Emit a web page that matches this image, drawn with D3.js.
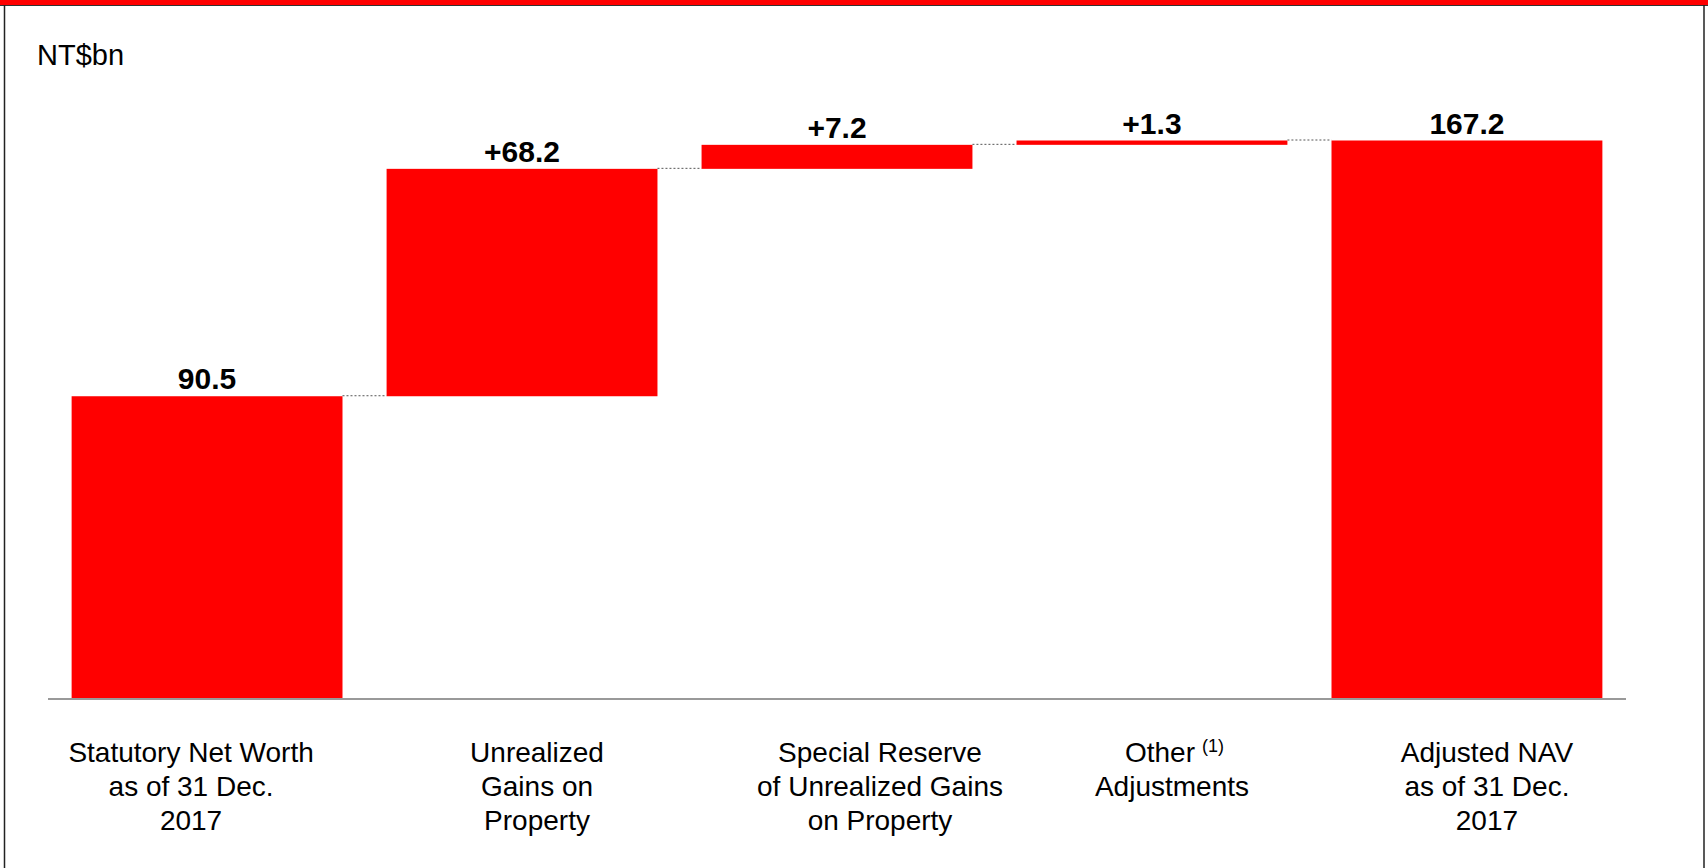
<!DOCTYPE html>
<html>
<head>
<meta charset="utf-8">
<script src="https://cdn.jsdelivr.net/npm/d3@7"></script>
<style>
  body { margin: 0; background: #fff; }
  text { font-family: Arial, "Liberation Sans", sans-serif; }
</style>
</head>
<body>
<svg width="1708" height="868"></svg>
<script>
// categories, one text line per row
const categories = [
  ['Statutory Net Worth', 'as of 31 Dec.', '2017'],
  ['Unrealized', 'Gains on', 'Property'],
  ['Special Reserve', 'of Unrealized Gains', 'on Property'],
  ['Other', 'Adjustments'],
  ['Adjusted NAV', 'as of 31 Dec.', '2017']
]
const kinds = ['total', 'delta', 'delta', 'delta', 'total']
const values = [90.5, 68.2, 7.2, 1.3, 167.2]
const valueLabels = ['90.5', '+68.2', '+7.2', '+1.3', '167.2']
const unit = 'NT$bn'

// label nudges in px (the text boxes are not exactly under the bars)
const labelShift = [-16, 15, 43, 20, 20]

const svg = d3.select('svg')
const width = +svg.attr('width')
const height = +svg.attr('height')

const baseY = 698
const x = d3.scaleBand()
    .domain(d3.range(values.length))
    .range([48, 1626])
    .paddingInner(0.14)
    .paddingOuter(0.075)
const y = d3.scaleLinear()
    .domain([0, 167.2])
    .range([baseY, 140.5])

// running totals for waterfall
let run = 0
const bars = values.map((v, i) => {
  let lo, hi
  if (kinds[i] === 'total') { lo = 0; hi = v; run = v }
  else { lo = run; hi = run + v; run = hi }
  return {i, lo, hi}
})

// frame
svg.append('rect')
    .attr('x', 0).attr('y', 0)
    .attr('width', width).attr('height', 5)
    .attr('fill', '#ff0000')
svg.append('line')
    .attr('x1', 0).attr('x2', width)
    .attr('y1', 5.5).attr('y2', 5.5)
    .attr('stroke', '#333').attr('stroke-width', 1)
svg.append('line')
    .attr('x1', 4.5).attr('x2', 4.5)
    .attr('y1', 5).attr('y2', height)
    .attr('stroke', '#222').attr('stroke-width', 1.5)
svg.append('line')
    .attr('x1', 1704).attr('x2', 1704)
    .attr('y1', 5).attr('y2', height)
    .attr('stroke', '#222').attr('stroke-width', 1.5)

svg.append('text')
    .attr('x', 37).attr('y', 65)
    .attr('font-size', 29)
    .attr('fill', '#000')
    .text(unit)

// connectors
const g = svg.append('g')
bars.slice(0, -1).forEach((b, k) => {
  const lvl = kinds[k + 1] === 'total' ? bars[k + 1].hi : bars[k + 1].lo
  g.append('line')
      .attr('x1', x(k) + x.bandwidth())
      .attr('x2', x(k + 1))
      .attr('y1', y(lvl) - 0.5)
      .attr('y2', y(lvl) - 0.5)
      .attr('stroke', '#555')
      .attr('stroke-width', 1)
      .attr('stroke-dasharray', '2,2')
})

g.selectAll('rect.bar')
  .data(bars)
  .join('rect')
    .attr('class', 'bar')
    .attr('x', d => x(d.i))
    .attr('width', x.bandwidth())
    .attr('y', d => y(d.hi))
    .attr('height', d => y(d.lo) - y(d.hi))
    .attr('fill', '#ff0000')

// baseline axis
svg.append('line')
    .attr('x1', x.range()[0]).attr('x2', x.range()[1])
    .attr('y1', baseY + 1).attr('y2', baseY + 1)
    .attr('stroke', '#999').attr('stroke-width', 2)

g.selectAll('text.val')
  .data(bars)
  .join('text')
    .attr('class', 'val')
    .attr('x', d => x(d.i) + x.bandwidth() / 2)
    .attr('y', d => y(d.hi) - 7)
    .attr('text-anchor', 'middle')
    .attr('font-size', 30)
    .attr('font-weight', 'bold')
    .text(d => valueLabels[d.i])

// category labels
categories.forEach((lines, i) => {
  const cx = x(i) + x.bandwidth() / 2 + labelShift[i]
  const t = svg.append('text')
      .attr('text-anchor', 'middle')
      .attr('font-size', 28)
  lines.forEach((s, j) => {
    const ts = t.append('tspan')
        .attr('x', cx)
        .attr('y', 762 + j * 34)
        .text(s)
    if (i === 3 && j === 0) {
      ts.attr('x', cx - 12)
      t.append('tspan')
          .attr('x', cx + 30)
          .attr('y', 752)
          .attr('font-size', 18)
          .attr('text-anchor', 'start')
          .text('(1)')
    }
  })
})
</script>
</body>
</html>
